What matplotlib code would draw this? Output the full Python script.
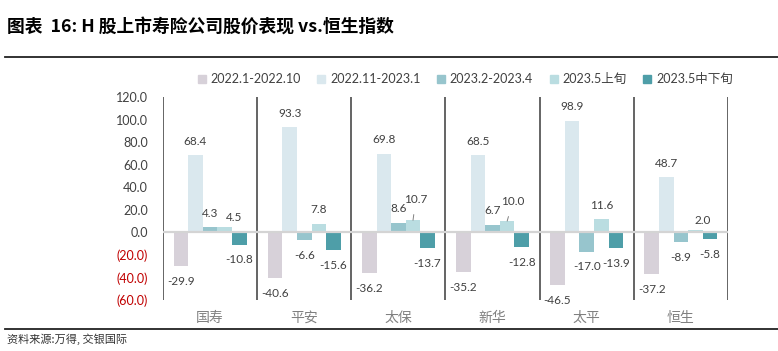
import numpy as np
import matplotlib
matplotlib.use("Agg")
import matplotlib.pyplot as plt
from matplotlib.lines import Line2D

plt.rcParams['font.family'] = ['Lato', 'Noto Sans CJK SC', 'DejaVu Sans']

# data
companies = ["国寿", "平安", "太保", "新华", "太平", "恒生"]
periods = ["2022.1-2022.10", "2022.11-2023.1", "2023.2-2023.4", "2023.5上旬", "2023.5中下旬"]
p1 = [-29.9, -40.6, -36.2, -35.2, -46.5, -37.2]
p2 = [68.4, 93.3, 69.8, 68.5, 98.9, 48.7]
p3 = [4.3, -6.6, 8.6, 6.7, -17.0, -8.9]
p4 = [4.5, 7.8, 10.7, 10.0, 11.6, 2.0]
p5 = [-10.8, -15.6, -13.7, -12.8, -13.9, -5.8]
yticks = [-60, -40, -20, 0, 20, 40, 60, 80, 100, 120]

colors = ["#d7d1d9", "#dae8ee", "#97c5cd", "#badde1", "#4e9ea8"]
series = [p1, p2, p3, p4, p5]

# label tweaks (series index, company index) -> (dx, dy) in points, leader line
label_tweaks = {
    (3, 0): (7, 7, False),
    (3, 2): (2, 15, True),
    (3, 3): (4, 14, True),
    (3, 5): (5, 7, False),
}

fig = plt.figure(figsize=(7.78, 3.51), dpi=100)
ax = fig.add_axes([163 / 778, 1 - 300 / 351, (728 - 163) / 778, (300 - 97) / 351])

x = np.arange(len(companies))
w = 0.155
for i, vals in enumerate(series):
    xs = x + (i - 2) * w
    ax.bar(xs, vals, width=w, color=colors[i], zorder=2)
    for j, v in enumerate(vals):
        dx, dy, lead = label_tweaks.get((i, j), (0, 10 if v >= 0 else -11, False))
        ax.annotate(f"{v:.1f}", (xs[j], v), xytext=(dx, dy), textcoords="offset points",
                    ha="center", va="center", fontsize=8.5, color="#404040", zorder=4,
                    arrowprops=dict(arrowstyle="-", color="#808080", lw=0.7,
                                    shrinkA=5, shrinkB=0) if lead else None)

ax.axhline(0, color="#d4d4d4", lw=1.6, zorder=3)
for sep in np.arange(len(companies) + 1) - 0.5:
    ax.axvline(sep, color="#3a3a3a", lw=1.1, zorder=1)

ax.set_xlim(-0.5, len(companies) - 0.5)
ax.set_ylim(-60, 120)
ax.set_yticks(yticks)
ax.set_yticklabels([f"{t:.1f}" if t >= 0 else f"({abs(t):.1f})" for t in yticks], fontsize=9)
for lab, t in zip(ax.get_yticklabels(), yticks):
    lab.set_color("#c00000" if t < 0 else "#404040")
ax.set_xticks(x)
ax.set_xticklabels(companies, fontsize=10, color="#808080", family=['Noto Sans CJK SC'])
ax.tick_params(axis="both", length=0)
ax.tick_params(axis="y", pad=11)
ax.tick_params(axis="x", pad=8)
for s in ax.spines.values():
    s.set_visible(False)

handles = [Line2D([], [], marker="s", ls="", markersize=6, color=c) for c in colors]
fig.legend(handles, periods, loc="center", bbox_to_anchor=(465 / 778, 1 - 79 / 351),
           ncol=5, frameon=False, fontsize=9, handlelength=0.7, handletextpad=0.35,
           columnspacing=1.3, labelcolor="#404040")

fig.text(7 / 778, 1 - 28 / 351, "图表  16: H 股上市寿险公司股价表现 vs.恒生指数",
         fontsize=12.8, fontweight="bold", va="center", family=['Noto Sans CJK SC'])
fig.add_artist(Line2D([5 / 778, 1], [1 - 57 / 351] * 2, color="#222222", lw=1.3))
fig.add_artist(Line2D([5 / 778, 1], [1 - 329 / 351] * 2, color="#222222", lw=1.3))
fig.text(7 / 778, 1 - 339 / 351, "资料来源:万得, 交银国际", fontsize=8, style="italic",
         color="#333333", va="center", family=['Noto Sans CJK SC'])

fig.savefig("out.png", dpi=100)
